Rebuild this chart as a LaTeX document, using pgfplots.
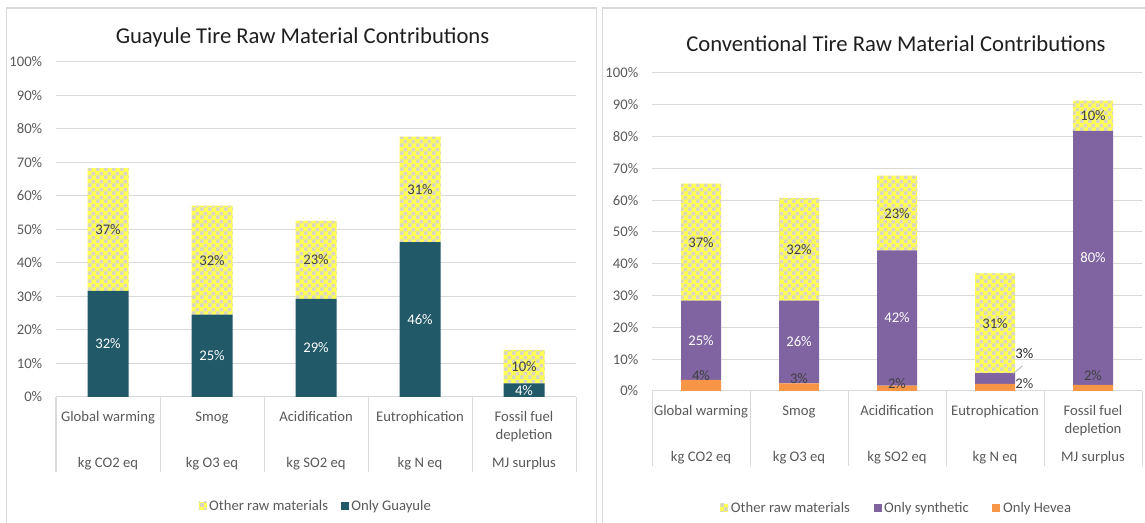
\documentclass[border=0pt]{standalone}
\usepackage{fontspec}
\setmainfont{Carlito}
\usepackage{pgfplots}
\pgfplotsset{compat=1.18}
\usetikzlibrary{patterns}

\definecolor{framegray}{HTML}{D9D9D9}
\definecolor{gridgray}{HTML}{D9D9D9}
\definecolor{tickgray}{HTML}{595959}
\definecolor{labelgray}{HTML}{404040}
\definecolor{titleblack}{HTML}{1F1F1F}
\definecolor{chkyellow}{HTML}{FFFF55}
\definecolor{chkgray}{HTML}{D9D7C4}
\definecolor{guayule}{HTML}{215968}
\definecolor{synth}{HTML}{8064A2}
\definecolor{hevea}{HTML}{F79646}

% 4px checker cells (1px = 0.75pt)
\pgfdeclarepatternformonly{excelcheck}{\pgfqpoint{0pt}{0pt}}{\pgfqpoint{6pt}{6pt}}{\pgfqpoint{6pt}{6pt}}{%
  \pgfpathrectangle{\pgfqpoint{0pt}{0pt}}{\pgfqpoint{3pt}{3pt}}%
  \pgfpathrectangle{\pgfqpoint{3pt}{3pt}}{\pgfqpoint{3pt}{3pt}}%
  \pgfusepath{fill}}

\newcommand{\fsz}{\fontsize{11pt}{13pt}\selectfont}
\newcommand{\tsz}{\fontsize{17pt}{20pt}\selectfont}

\tikzset{
  checkfill/.style={fill=chkyellow, postaction={pattern=excelcheck, pattern color=chkgray}},
  lbl/.style={font=\fsz, text=labelgray, inner sep=0pt},
  wlbl/.style={font=\fsz, text=white, inner sep=0pt},
  cat/.style={font=\fsz, text=tickgray, anchor=base, inner sep=0pt},
}

\pgfplotsset{
  excelbars/.style={
    scale only axis,
    ybar stacked,
    xmin=-0.5, xmax=4.5, ymin=0, ymax=100,
    xtick=\empty,
    ytick={0,10,...,100},
    yticklabels={0\%,10\%,20\%,30\%,40\%,50\%,60\%,70\%,80\%,90\%,100\%},
    yticklabel style={font=\fsz, text=tickgray, xshift=-6.8pt},
    major tick length=0pt,
    axis line style={draw=none},
    ymajorgrids,
    grid style={draw=gridgray, line width=0.75pt},
    clip=false,
    reverse legend,
    legend columns=-1,
    legend image code/.code={\draw[##1, draw=none] (0pt,-3pt) rectangle (6pt,3pt);},
    legend style={draw=none, fill=none, font=\fsz, text=tickgray,
      at={(0.5,0)}, anchor=center},
  },
}

\newcommand{\categories}{%
  \node[cat] at ([yshift=-18.75pt]axis cs:0,0) {Global warming};
  \node[cat] at ([yshift=-18.75pt]axis cs:1,0) {Smog};
  \node[cat] at ([yshift=-18.75pt]axis cs:2,0) {Acidification};
  \node[cat] at ([yshift=-18.75pt]axis cs:3,0) {Eutrophication};
  \node[cat] at ([yshift=-18.75pt]axis cs:4,0) {Fossil fuel};
  \node[cat] at ([yshift=-32.25pt]axis cs:4,0) {depletion};
  \node[cat] at ([yshift=-53.25pt]axis cs:0,0) {kg CO2 eq};
  \node[cat] at ([yshift=-53.25pt]axis cs:1,0) {kg O3 eq};
  \node[cat] at ([yshift=-53.25pt]axis cs:2,0) {kg SO2 eq};
  \node[cat] at ([yshift=-53.25pt]axis cs:3,0) {kg N eq};
  \node[cat] at ([yshift=-53.25pt]axis cs:4,0) {MJ surplus};
  \draw[gridgray, line width=0.75pt] (axis cs:-0.5,0) -- (axis cs:4.5,0);
  \pgfplotsinvokeforeach{-0.5,0.5,1.5,2.5,3.5,4.5}{
    \draw[gridgray, line width=0.75pt] (axis cs:##1,0) -- ++(0pt,-56.5pt);
  }%
}

\newcommand{\leftlabels}{%
  \node[wlbl] at (axis cs:0,15.85) {32\%};
  \node[wlbl] at (axis cs:1,12.3) {25\%};
  \node[wlbl] at (axis cs:2,14.65) {29\%};
  \node[wlbl] at (axis cs:3,23.1) {46\%};
  \node[wlbl] at (axis cs:4,2.05) {4\%};
  \node[lbl] at (axis cs:0,50.0) {37\%};
  \node[lbl] at (axis cs:1,40.85) {32\%};
  \node[lbl] at (axis cs:2,40.95) {23\%};
  \node[lbl] at (axis cs:3,61.95) {31\%};
  \node[lbl] at (axis cs:4,9.1) {10\%};
}

\newcommand{\rightlabels}{%
  \node[lbl] at (axis cs:0,4.7) {4\%};
  \node[lbl] at (axis cs:1,3.8) {3\%};
  \node[lbl] at (axis cs:2,2.2) {2\%};
  \node[lbl] at (axis cs:3.30,2.2) {2\%};
  \node[lbl] at (axis cs:4,4.7) {2\%};
  \node[wlbl] at (axis cs:0,15.95) {25\%};
  \node[wlbl] at (axis cs:1,15.4) {26\%};
  \node[wlbl] at (axis cs:2,22.95) {42\%};
  \node[lbl, text=black!85] at (axis cs:3.30,11.9) {3\%};
  \draw[black!35, line width=0.5pt] (axis cs:3.28,7.9) -- (axis cs:3.18,5.3);
  \node[wlbl] at (axis cs:4,41.85) {80\%};
  \node[lbl] at (axis cs:0,46.8) {37\%};
  \node[lbl] at (axis cs:1,44.55) {32\%};
  \node[lbl] at (axis cs:2,55.95) {23\%};
  \node[lbl] at (axis cs:3,21.3) {31\%};
  \node[lbl] at (axis cs:4,86.55) {10\%};
}

\begin{document}
\begin{tikzpicture}
\path[use as bounding box] (0pt,0pt) rectangle (858.75pt,392.25pt);

% chart frames
\draw[framegray, line width=1.1pt] (4.9pt,-2pt) -- (4.9pt,386.25pt) -- (447.4pt,386.25pt) -- (447.4pt,-2pt);
\draw[framegray, line width=1.1pt] (451.9pt,-2pt) -- (451.9pt,386.25pt) -- (862pt,386.25pt);

% titles
\node[font=\tsz, text=titleblack] at (226.9pt,364.5pt) {Guayule Tire Raw Material Contributions};
\node[font=\tsz, text=titleblack] at (672pt,359.25pt) {Conventional Tire Raw Material Contributions};

% ---------------- Guayule tire ----------------
\begin{axis}[excelbars,
  at={(42pt,94.5pt)}, anchor=south west,
  width=390pt, height=251.25pt,
  bar width=30.75pt,
  legend style={yshift=-81.75pt,
    /tikz/every even column/.append style={column sep=7.5pt}},
  after end axis/.code={\leftlabels},
]
\addplot[fill=guayule, draw=none] coordinates {(0,31.7) (1,24.6) (2,29.3) (3,46.2) (4,4.1)};
\addlegendentry{Only Guayule}
\addplot[checkfill, draw=none] coordinates {(0,36.6) (1,32.5) (2,23.3) (3,31.5) (4,10.0)};
\addlegendentry{Other raw materials}

\categories
\end{axis}

% ---------------- Conventional tire ----------------
\begin{axis}[excelbars,
  at={(489pt,99pt)}, anchor=south west,
  width=367.5pt, height=238.5pt,
  bar width=30pt,
  legend style={yshift=-87.75pt,
    /tikz/every even column/.append style={column sep=15.75pt}},
  after end axis/.code={\rightlabels},
]
\addplot[fill=hevea, draw=none] coordinates {(0,3.5) (1,2.4) (2,1.7) (3,2.2) (4,1.9)};
\addlegendentry{Only Hevea}
\addplot[fill=synth, draw=none] coordinates {(0,24.9) (1,26.0) (2,42.5) (3,3.4) (4,79.9)};
\addlegendentry{Only synthetic}
\addplot[checkfill, draw=none] coordinates {(0,36.8) (1,32.3) (2,23.5) (3,31.4) (4,9.5)};
\addlegendentry{Other raw materials}

\categories
\end{axis}
\end{tikzpicture}
\end{document}
